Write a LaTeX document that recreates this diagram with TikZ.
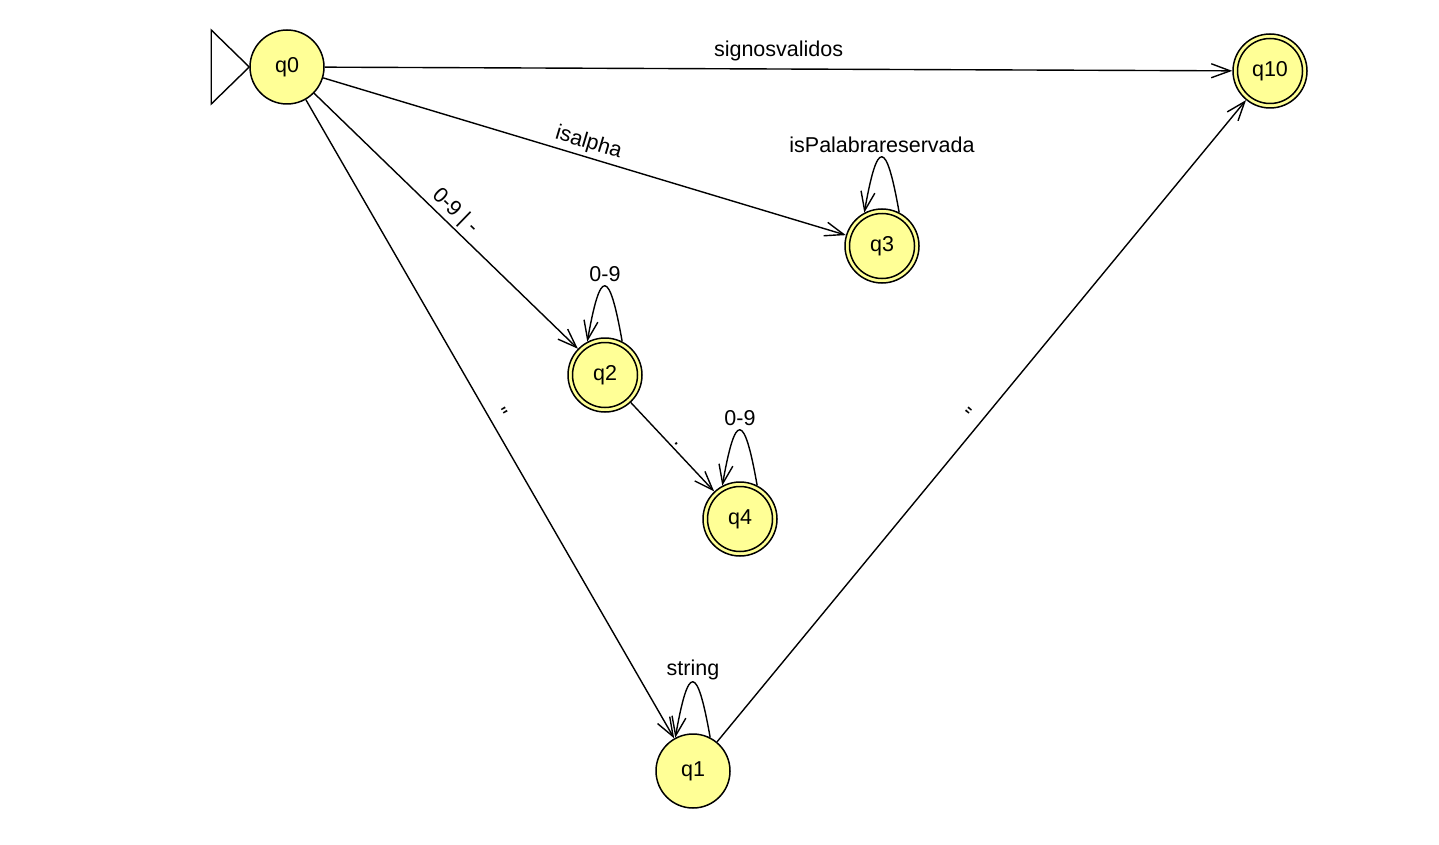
\documentclass[tikz,border=0pt]{standalone}
\usepackage{fontspec}
\setmainfont{Liberation Sans}
\usetikzlibrary{arrows.meta}
\definecolor{statefill}{RGB}{255,255,150}
\tikzset{
  x=1pt, y=1pt,
  every node/.style={font=\fontsize{21.5}{26}\selectfont},
  state/.style={circle, draw, fill=statefill, line width=1.5pt, minimum size=74pt, inner sep=0pt},
  accept/.style={state, path picture={\draw[line width=1.5pt] (path picture bounding box.center) circle (32.5pt);}},
  trans/.style={line width=1.4pt, -{Straight Barb[length=19pt,width=14pt,line width=1.4pt]}},
  lbl/.style={sloped, above, pos=0.5},
}
\begin{document}
\begin{tikzpicture}
\useasboundingbox (0,0) rectangle (1439,-845);
\node[state]  (q0)  at (287,-67)  {q0};
\node[accept] (q10) at (1270,-71) {q10};
\node[accept] (q3)  at (882,-246) {q3};
\node[accept] (q2)  at (605,-375) {q2};
\node[accept] (q4)  at (740,-519) {q4};
\node[state]  (q1)  at (693,-771) {q1};
% initial marker
\draw[line width=1.4pt] (q0.west) -- ++(-38,37) -- ++(0,-74) -- cycle;
% transitions
\draw[trans] (q0) -- node[lbl, above=4pt] {signosvalidos} (q10);
\draw[trans] (q0) -- node[lbl] {isalpha} (q3);
\draw[trans] (q0) -- node[lbl, above=-1pt] {0-9 | -} (q2);
\draw[trans] (q0) -- node[lbl] {\textquotedbl} (q1);
\draw[trans] (q1) -- node[lbl] {\textquotedbl} (q10);
\draw[trans] (q2) -- node[lbl] {.} (q4);
% loops
\foreach \s/\t in {q3/isPalabrareservada, q2/0-9, q4/0-9, q1/string}{
  \draw[trans] (\s.63) .. controls +(100:75) and +(80:75) .. (\s.118);
  \node (\s lbl) at ([yshift=101pt]\s.center) {\t};
}
\end{tikzpicture}
\end{document}
